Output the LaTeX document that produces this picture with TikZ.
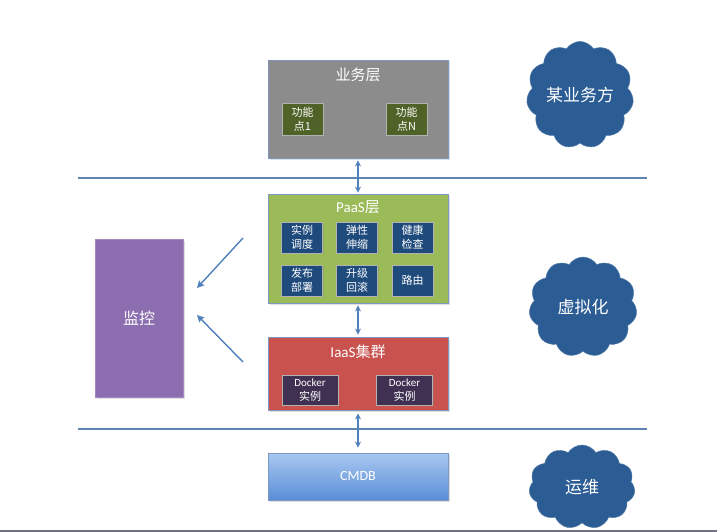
\documentclass[tikz,border=0pt]{standalone}
\usepackage{fontspec}
\setmainfont{Carlito}
\newfontfamily\cjk{Noto Sans CJK SC}
\usetikzlibrary{shapes.symbols,shadows,arrows.meta}
\definecolor{linec}{HTML}{5D84B2}
\definecolor{arrc}{HTML}{4F81BD}
\definecolor{bizc}{HTML}{8C8C8C}
\definecolor{bizborder}{HTML}{7C98C0}
\definecolor{fnc}{HTML}{4F6228}
\definecolor{paasc}{HTML}{9BBB59}
\definecolor{innerc}{HTML}{1F4A7C}
\definecolor{iaasc}{HTML}{C9524F}
\definecolor{dockc}{HTML}{403152}
\definecolor{monc}{HTML}{8B6DB0}
\definecolor{cloudc}{HTML}{2B5C94}
\definecolor{cmdbtop}{HTML}{A9C8F2}
\definecolor{cmdbbot}{HTML}{5A8ED6}
\definecolor{bottomc}{HTML}{707080}
\begin{document}
\begin{tikzpicture}[x=1pt,y=-1pt,
  layer/.style={draw=bizborder, line width=0.8pt, inner sep=0pt,
    drop shadow={shadow xshift=1.5pt, shadow yshift=-1.5pt, opacity=0.25}},
  title/.style={text=white, font=\fontsize{15}{17}\selectfont, inner sep=0pt},
  small/.style={draw=white!70!black, line width=0.5pt, inner sep=0pt, align=center,
    text=white, font=\cjk\fontsize{11}{14}\selectfont,
    drop shadow={shadow xshift=1pt, shadow yshift=-1pt, opacity=0.3}},
  sep/.style={draw=linec, line width=2.6pt},
  dbl/.style={draw=arrc, line width=1.4pt, {Stealth[length=6pt,width=6pt]}-{Stealth[length=6pt,width=6pt]}},
  one/.style={draw=arrc, line width=1.4pt, -{Stealth[length=7pt,width=7pt,inset=1pt]}},
  cloudbox/.style={cloud, cloud puffs=11, cloud puff arc=115, fill=cloudc, draw=cloudc!80!white,
    line width=0.5pt, text=white, inner sep=0pt, aspect=1}
]
\useasboundingbox (0,0) rectangle (717,532);
\fill[white] (0,0) rectangle (717,532);
\draw[draw=bottomc, line width=1.2pt] (0,531) -- (717,531);

% separator lines
\coordinate (l1a) at (78,178);
\coordinate (l1b) at (647,178);
\coordinate (l2a) at (78,429);
\coordinate (l2b) at (647,429);
\draw[sep] (l1a) -- (l1b);
\draw[sep] (l2a) -- (l2b);

% business layer
\node[layer, fill=bizc, minimum width=180pt, minimum height=98pt] (biz) at (358,109) {};
\node[title] (biztitle) at (358,75) {\cjk 业务层};
\node[small, fill=fnc, minimum width=41pt, minimum height=32pt] (fn1) at (302.5,119) {功能\\点1};
\node[small, fill=fnc, minimum width=41pt, minimum height=32pt] (fnN) at (406.5,119) {功能\\点N};

% PaaS layer
\node[layer, fill=paasc, minimum width=180pt, minimum height=109pt] (paas) at (358,248.5) {};
\node[title] (paastitle) at (358,207) {PaaS\cjk 层};
\node[small, fill=innerc, minimum width=41pt, minimum height=31pt] (p1) at (302,237.5) {实例\\调度};
\node[small, fill=innerc, minimum width=41pt, minimum height=31pt] (p2) at (357,237.5) {弹性\\伸缩};
\node[small, fill=innerc, minimum width=41pt, minimum height=31pt] (p3) at (412.5,237.5) {健康\\检查};
\node[small, fill=innerc, minimum width=41pt, minimum height=31pt] (p4) at (302,280.5) {发布\\部署};
\node[small, fill=innerc, minimum width=41pt, minimum height=31pt] (p5) at (357,280.5) {升级\\回滚};
\node[small, fill=innerc, minimum width=41pt, minimum height=31pt] (p6) at (412.5,280.5) {路由};

% IaaS layer
\node[layer, fill=iaasc, minimum width=180pt, minimum height=73pt] (iaas) at (358,373.5) {};
\node[title] (iaastitle) at (358,352) {IaaS\cjk 集群};
\node[small, fill=dockc, minimum width=56pt, minimum height=30pt, font=\fontsize{11}{14}\selectfont] (d1) at (310,390) {Docker\\{\cjk 实例}};
\node[small, fill=dockc, minimum width=56pt, minimum height=30pt, font=\fontsize{11}{14}\selectfont] (d2) at (404.5,390) {Docker\\{\cjk 实例}};

% CMDB
\node[layer, top color=cmdbtop, bottom color=cmdbbot, minimum width=180pt, minimum height=47pt,
  text=white, font=\fontsize{14}{16}\selectfont] (cmdb) at (358,476.5) {CMDB};

% monitor
\node[draw=monc!80!white, fill=monc, minimum width=88pt, minimum height=158pt, text=white,
  font=\cjk\fontsize{16}{18}\selectfont,
  drop shadow={shadow xshift=1.5pt, shadow yshift=-1.5pt, opacity=0.25}] (mon) at (139,318) {监控};

% clouds
\node[cloudbox, minimum width=104pt, minimum height=106pt, font=\cjk\fontsize{17}{19}\selectfont] (c1) at (580,95) {某业务方};
\node[cloudbox, minimum width=108pt, minimum height=100pt, font=\cjk\fontsize{17}{19}\selectfont] (c2) at (583,307) {虚拟化};
\node[cloudbox, minimum width=106pt, minimum height=84pt, font=\cjk\fontsize{17}{19}\selectfont] (c3) at (582,487) {运维};

% arrows
\draw[dbl, shorten <=2pt, shorten >=1pt] (biz.south) -- (paas.north);
\draw[dbl, shorten <=2pt, shorten >=2pt] (paas.south) -- (iaas.north);
\draw[dbl, shorten <=3pt, shorten >=5pt] (iaas.south) -- (cmdb.north);

\coordinate (a1s) at (243,238);
\coordinate (a1e) at (197,288);
\coordinate (a2s) at (243,362);
\coordinate (a2e) at (197,315);
\draw[one] (a1s) -- (a1e);
\draw[one] (a2s) -- (a2e);
\end{tikzpicture}
\end{document}
